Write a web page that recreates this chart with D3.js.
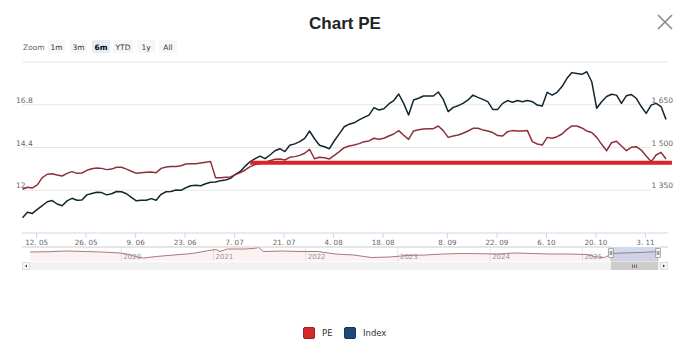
<!DOCTYPE html>
<html><head><meta charset="utf-8">
<script src="https://cdn.jsdelivr.net/npm/d3@7/dist/d3.min.js"></script>
<style>
html,body{margin:0;padding:0;background:#fff;}
svg{display:block;font-family:"DejaVu Sans",Verdana,sans-serif;}
</style></head><body>
<svg id="c" width="690" height="357"></svg>
<script>
// ---------- data ----------
const peValues = [
 12.03,12.14,12.10,12.27,12.68,12.87,12.90,12.83,12.77,12.92,13.02,12.92,12.94,13.09,13.18,13.22,13.20,13.13,13.16,13.26,
 13.26,13.16,13.04,12.92,12.96,12.98,13.00,12.96,13.20,13.28,13.30,13.30,13.35,13.45,13.46,13.46,13.50,13.54,13.58,12.68,
 12.68,12.70,12.72,12.85,12.96,
 13.11,13.30,13.41,13.47,13.54,13.63,13.71,13.73,13.67,13.82,13.86,13.93,14.05,14.27,13.74,13.82,13.80,13.73,13.93,14.14,
 14.36,14.46,14.51,14.59,14.70,14.74,14.89,14.83,14.89,15.02,15.13,15.32,15.06,14.83,15.30,15.37,15.41,15.43,15.43,15.58,15.32,
 14.94,15.02,15.07,15.17,15.30,15.45,15.45,15.36,15.30,15.21,15.04,15.02,15.26,15.32,15.30,15.30,15.32,14.70,14.57,14.51,
 14.94,14.89,14.98,15.13,15.39,15.58,15.58,15.47,15.30,15.21,14.94,14.55,14.19,14.64,14.72,14.46,14.19,14.38,14.42,14.23,
 13.90,13.58,13.95,14.10,13.73
];
const indexValues = [
 1252,1271,1267,1281,1294,1308,1312,1300,1294,1311,1320,1313,1314,1332,1337,1341,1340,1332,1336,1344,
 1343,1336,1323,1311,1313,1313,1319,1313,1334,1343,1344,1349,1348,1357,1364,1366,1364,1371,1376,1377,1382,1384,
 1390,1404,1414,1433,1449,1459,1468,1459,1472,1487,1494,1484,1506,1511,1519,1530,1556,1529,1506,1501,1494,1522,
 1546,1571,1580,1585,1595,1604,1612,1638,1630,1634,1651,1663,1686,1653,1612,1665,1671,1679,1679,1679,1693,1667,
 1624,1639,1645,1653,1665,1682,1674,1667,1659,1632,1632,1653,1663,1657,1663,1659,1663,1659,1647,1644,
 1692,1682,1692,1712,1741,1761,1758,1755,1764,1729,1636,1659,1677,1685,1682,1653,1680,1684,1671,1642,
 1618,1647,1653,1642,1597
];
// PE level line: value, first and last position (in trading-day index)
const levelValue = 13.52;
const levelRange = [46, 131.2];

const xTickPos = [2.75,12.75,22.75,32.75,42.75,52.75,62.75,72.75,85.75,95.75,105.75,115.75,125.75];
const xTickLabels = ["12. 05","26. 05","9. 06","23. 06","7. 07","21. 07","4. 08","18. 08","8. 09","22. 09","6. 10","20. 10","3. 11"];

const peGrid = [12, 14.4, 16.8, 19.2];
const peLabels = [12, 14.4, 16.8];
const idxLabels = [1350, 1500, 1650];

// navigator (full history of PE)
const navTimes = [2019.01,2019.21,2019.40,2019.60,2019.79,2019.99,2020.08,2020.18,2020.24,2020.38,2020.57,2020.77,2020.95,
 2021.03,2021.07,2021.15,2021.34,2021.43,2021.49,2021.54,2021.74,2021.93,2022.13,2022.32,2022.52,2022.71,2022.91,
 2023.10,2023.30,2023.49,2023.69,2023.88,2024.08,2024.26,2024.46,2024.65,2024.85,2025.04,2025.16,2025.24,2025.33,
 2025.43,2025.63,2025.82];
const navValues = [15.0,15.3,16.0,15.5,15.0,14.0,12.5,10.0,9.0,10.5,12.0,13.5,16.5,
 17.5,15.5,18.0,18.0,18.5,19.5,15.5,16.0,15.5,15.5,13.0,12.0,9.5,10.0,
 11.5,12.0,13.0,13.5,13.3,13.0,14.0,13.5,13.0,13.0,12.5,10.0,9.5,13.5,
 14.0,14.5,15.5];
const navYears = [2020,2021,2022,2023,2024,2025];
const navSelection = [2025.31, 2025.82];

const zoomButtons = ["1m","3m","6m","YTD","1y","All"];
const selectedButton = "6m";
const legendItems = [{name:"PE", color:"#d42a2a", stroke:"#a01e22"},{name:"Index", color:"#1d4a7a", stroke:"#143558"}];

// ---------- drawing ----------
const svg = d3.select("#c");
const plot = {left:22.5, right:666, top:61.5, bottom:232.5, gridRight:667};

const x = d3.scaleLinear().domain([0, peValues.length-1]).range([plot.left, plot.right]);
const yPE = d3.scaleLinear().domain([9.6, 19.2]).range([plot.bottom, plot.top]);
const yIdx = d3.scaleLinear().domain([1200, 1800]).range([plot.bottom, plot.top]);

// title
svg.append("text").attr("x",345).attr("y",29).attr("text-anchor","middle")
  .attr("font-family","'Liberation Sans',Arial,sans-serif").attr("font-weight","bold")
  .attr("font-size",17).attr("fill","#222").text("Chart PE");
// close icon
svg.append("path").attr("d","M658,15L672,29M672,15L658,29").attr("stroke","#8a8a8a").attr("stroke-width",1.6);

// range selector
svg.append("text").attr("x",23).attr("y",50).attr("font-size",7.5).attr("fill","#666").text("Zoom");
const btnX = [48,70,92,113,137,159];
const btnW = [17,17,18,20,18,18];
zoomButtons.forEach((b,i)=>{
  const g = svg.append("g");
  g.append("rect").attr("x",btnX[i]).attr("y",40).attr("width",btnW[i]).attr("height",13).attr("rx",1.5)
    .attr("fill", b===selectedButton ? "#e6ebf5" : "#f7f7f7");
  g.append("text").attr("x",btnX[i]+btnW[i]/2).attr("y",50).attr("text-anchor","middle")
    .attr("font-size",7.5).attr("font-weight", b===selectedButton ? "bold":"normal")
    .attr("fill", b===selectedButton ? "#000" : "#333").text(b);
});

// gridlines
const gridAxis = d3.axisLeft(yPE).tickValues(peGrid).tickSize(-(plot.gridRight-plot.left)).tickFormat("");
const gg = svg.append("g").attr("transform",`translate(${plot.left},0)`).call(gridAxis);
gg.select(".domain").remove();
gg.selectAll(".tick line").attr("stroke","#e6e6e6").attr("stroke-width",1);

// left labels
const la = d3.axisRight(yPE).tickValues(peLabels).tickSize(0).tickFormat(d=>String(d));
const lg = svg.append("g").attr("transform","translate(16,0)").call(la);
lg.select(".domain").remove();
lg.selectAll(".tick text").attr("x",0).attr("dy","-0.25em").attr("text-anchor","start")
  .attr("font-size",7.5).attr("fill","#666").attr("font-family","'DejaVu Sans',Verdana,sans-serif");

// right labels
const fmtIdx = d => d3.format(",")(d).replace(/,/g," ");
const ra = d3.axisLeft(yIdx).tickValues(idxLabels).tickSize(0).tickFormat(fmtIdx);
const rg = svg.append("g").attr("transform","translate(673,0)").call(ra);
rg.select(".domain").remove();
rg.selectAll(".tick").insert("rect","text").attr("x",-22).attr("y",-10).attr("width",24).attr("height",11).attr("fill","#fff");
rg.selectAll(".tick text").attr("x",0).attr("dy","-0.25em").attr("text-anchor","end")
  .attr("font-size",7.5).attr("fill","#666").attr("font-family","'DejaVu Sans',Verdana,sans-serif");

// x axis
svg.append("line").attr("x1",plot.left-1).attr("x2",plot.gridRight+1).attr("y1",233).attr("y2",233).attr("stroke","#ccd6eb");
const xa = d3.axisBottom(x).tickValues(xTickPos).tickSize(5).tickPadding(2).tickFormat((d,i)=>xTickLabels[i]);
const xg = svg.append("g").attr("transform","translate(0,233)").call(xa);
xg.select(".domain").remove();
xg.selectAll(".tick line").attr("stroke","#ccd6eb");
xg.selectAll(".tick text").attr("font-size",7.2).attr("fill","#666").attr("font-family","'DejaVu Sans',Verdana,sans-serif");

// series lines
const linePE = d3.line().x((d,i)=>x(i)).y(d=>yPE(d));
const lineIdx = d3.line().x((d,i)=>x(i)).y(d=>yIdx(d));
svg.append("path").datum(indexValues).attr("d",lineIdx).attr("fill","none").attr("stroke","#12262f").attr("stroke-width",1.5).attr("stroke-linejoin","round");
svg.append("path").datum(peValues).attr("d",linePE).attr("fill","none").attr("stroke","#8e2f3c").attr("stroke-width",1.5).attr("stroke-linejoin","round");

// PE level line
svg.append("line").attr("x1",x(levelRange[0])).attr("x2",x(levelRange[1]))
  .attr("y1",yPE(levelValue)).attr("y2",yPE(levelValue))
  .attr("stroke","#d9222a").attr("stroke-width",4);

// ---------- navigator ----------
const nav = {top:247, bottom:261, left:22, right:668};
const navX = d3.scaleLinear().domain([navTimes[0], navTimes[navTimes.length-1]]).range([30, 658]);
const navY = d3.scaleLinear().domain([6, 20]).range([nav.bottom, nav.top]);
// year grid
navYears.forEach(yr=>{
  svg.append("line").attr("x1",navX(yr)).attr("x2",navX(yr)).attr("y1",nav.top).attr("y2",nav.bottom).attr("stroke","#e6e6e6");
  svg.append("text").attr("x",navX(yr)+2).attr("y",258.5).attr("font-size",7).attr("fill","#999").text(yr);
});
const navData = navTimes.map((t,i)=>[t,navValues[i]]);
svg.append("path").datum(navData)
  .attr("d", d3.area().x(d=>navX(d[0])).y0(nav.bottom).y1(d=>navY(d[1])))
  .attr("fill","rgba(212,42,42,0.06)");
svg.append("path").datum(navData)
  .attr("d", d3.line().x(d=>navX(d[0])).y(d=>navY(d[1])))
  .attr("fill","none").attr("stroke","#a06a72").attr("stroke-width",0.9);
// selection mask
const s0 = navX(navSelection[0]), s1 = navX(navSelection[1]);
svg.append("rect").attr("x",s0).attr("y",nav.top).attr("width",s1-s0).attr("height",nav.bottom-nav.top)
  .attr("fill","rgba(102,133,194,0.3)");
// outline
svg.append("path").attr("d",`M${nav.left},${nav.top}H${s0}V${nav.bottom}H${s1}V${nav.top}H${nav.right}`)
  .attr("fill","none").attr("stroke","#cccccc").attr("stroke-width",1);
// handles
[s0,s1].forEach(h=>{
  svg.append("rect").attr("x",h-2.5).attr("y",248.5).attr("width",5).attr("height",9).attr("rx",0.5)
    .attr("fill","#f2f2f2").attr("stroke","#999").attr("stroke-width",0.8);
  svg.append("path").attr("d",`M${h-0.8},251V255M${h+0.8},251V255`).attr("stroke","#333").attr("stroke-width",0.6);
});
// scrollbar
svg.append("rect").attr("x",nav.left).attr("y",262).attr("width",nav.right-nav.left).attr("height",8).attr("fill","#f2f2f2");
svg.append("rect").attr("x",s0).attr("y",262).attr("width",s1-s0).attr("height",8).attr("fill","#cccccc");
const gripX = (s0+s1)/2;
svg.append("path").attr("d",`M${gripX-2},264.5V268M${gripX},264.5V268M${gripX+2},264.5V268`).attr("stroke","#333").attr("stroke-width",0.6);
[[nav.left,-1],[nav.right-8,1]].forEach(([bx,dir])=>{
  svg.append("rect").attr("x",bx+0.5).attr("y",262.5).attr("width",7).attr("height",7).attr("fill","#f7f7f7").attr("stroke","#ccc").attr("stroke-width",0.6);
  const cx = bx+4, cy=266;
  svg.append("path").attr("d", dir<0 ? `M${cx+1},${cy-1.5}L${cx-1},${cy}L${cx+1},${cy+1.5}Z` : `M${cx-1},${cy-1.5}L${cx+1},${cy}L${cx-1},${cy+1.5}Z`).attr("fill","#333");
});

// ---------- legend ----------
const legX = [303, 344];
legendItems.forEach((it,i)=>{
  svg.append("rect").attr("x",legX[i]+0.5).attr("y",327.5).attr("width",11).attr("height",11).attr("rx",1.5)
    .attr("fill",it.color).attr("stroke",it.stroke).attr("stroke-width",1);
  svg.append("text").attr("x",legX[i]+19).attr("y",336).attr("font-size",8.5).attr("fill","#333").text(it.name);
});
</script>
</body></html>
